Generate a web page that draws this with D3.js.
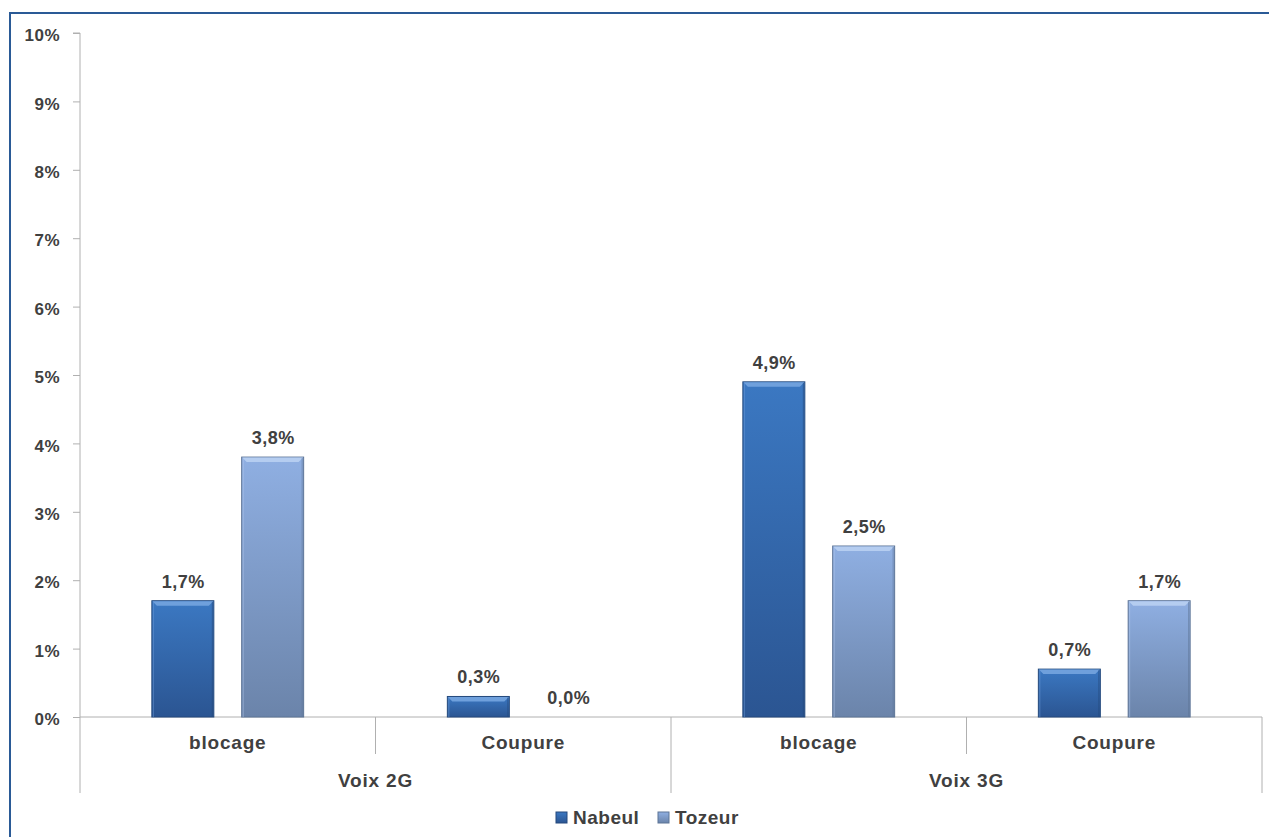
<!DOCTYPE html>
<html><head><meta charset="utf-8">
<script src="https://cdn.jsdelivr.net/npm/d3@7"></script>
<style>body{margin:0;background:#fff;}svg{display:block;font-family:"Liberation Sans",Arial,sans-serif;}</style>
</head><body>
<svg id="c" width="1269" height="837"></svg>
<script>
const groups = ["Voix 2G", "Voix 3G"];
const subCategories = ["blocage", "Coupure"];
const categories = ["Voix 2G|blocage", "Voix 2G|Coupure", "Voix 3G|blocage", "Voix 3G|Coupure"];
const seriesNames = ["Nabeul", "Tozeur"];
const nabeul = [1.7, 0.3, 4.9, 0.7];
const tozeur = [3.8, 0.0, 2.5, 1.7];
const yTicks = [0,1,2,3,4,5,6,7,8,9,10];

(function(){
const svg = d3.select("#c");
const defs = svg.append("defs");
function grad(id, c1, c2){
  const g = defs.append("linearGradient").attr("id", id).attr("x1",0).attr("y1",0).attr("x2",0).attr("y2",1);
  g.append("stop").attr("offset","0%").attr("stop-color",c1);
  g.append("stop").attr("offset","100%").attr("stop-color",c2);
}
grad("gN", "#3b78c2", "#2b5592");
grad("gT", "#8fafe2", "#6b84aa");
const fills = {Nabeul: "url(#gN)", Tozeur: "url(#gT)"};
const strokes = {Nabeul: "#24497c", Tozeur: "#5d7496"};
const tops = {Nabeul: "#6fa0dc", Tozeur: "#b5cdf0"};

svg.append("rect").attr("x",10).attr("y",13).attr("width",1280).attr("height",900)
  .attr("fill","none").attr("stroke","#2a5a96").attr("stroke-width",2);

const pL = 80, pR = 1262, pT = 33, pB = 717;
const y = d3.scaleLinear().domain([0,10]).range([pB, pT]);
const x0 = d3.scaleBand().domain(categories).range([pL, pR]).paddingInner(0).paddingOuter(0);
const x1 = d3.scaleBand().domain(seriesNames).range([0, x0.bandwidth()]).paddingInner(0.31).paddingOuter(0.8);

const textCol = "#404040";
const yAxis = d3.axisLeft(y).tickValues(yTicks).tickFormat(d => d + "%").tickSize(7).tickPadding(13);
const ya = svg.append("g").attr("transform", `translate(${pL},0)`).call(yAxis);
ya.select(".domain").attr("stroke","#b0b0b0").attr("d", `M-7,${pT}H0V${pB}`);
ya.selectAll(".tick line").attr("stroke","#b0b0b0");
ya.selectAll(".tick text").attr("fill",textCol).attr("font-size",17).attr("font-weight","bold")
  .attr("letter-spacing","0.5px").attr("dy","0.45em")
  .attr("font-family","'Liberation Sans',Arial,sans-serif");

svg.append("line").attr("x1",pL).attr("x2",pR).attr("y1",pB).attr("y2",pB).attr("stroke","#b0b0b0");
categories.forEach((c,i) => {
  const xs = x0(c);
  const isGroupStart = i % 2 === 0;
  svg.append("line").attr("x1",xs).attr("x2",xs).attr("y1",pB).attr("y2", isGroupStart ? 793 : 754)
    .attr("stroke","#b0b0b0");
});
svg.append("line").attr("x1",pR).attr("x2",pR).attr("y1",pB).attr("y2",793).attr("stroke","#b0b0b0");

categories.forEach(c => {
  svg.append("text").attr("x", x0(c) + x0.bandwidth()/2).attr("y", 749).attr("text-anchor","middle")
    .attr("fill",textCol).attr("font-size",19).attr("font-weight","bold").attr("letter-spacing","0.8px")
    .text(c.split("|")[1]);
});
groups.forEach(g => {
  const cs = categories.filter(c => c.startsWith(g + "|"));
  const xa = x0(cs[0]), xb = x0(cs[cs.length-1]) + x0.bandwidth();
  svg.append("text").attr("x",(xa+xb)/2).attr("y",787).attr("text-anchor","middle")
    .attr("fill",textCol).attr("font-size",19).attr("font-weight","bold").attr("letter-spacing","0.8px").text(g);
});

const data = categories.map((c,i) => ({cat:c, vals:[{s:"Nabeul", v:nabeul[i]},{s:"Tozeur", v:tozeur[i]}]}));
const gc = svg.selectAll("g.cat").data(data).join("g").attr("class","cat").attr("transform", d => `translate(${x0(d.cat)},0)`);
gc.each(function(d){
  const g = d3.select(this);
  d.vals.forEach(b => {
    const bx = x1(b.s), bw = x1.bandwidth(), by = y(b.v), bh = pB - y(b.v);
    if (bh > 0) {
      g.append("rect").attr("x",bx).attr("y",by).attr("width",bw).attr("height",bh)
        .attr("fill",fills[b.s]).attr("stroke",strokes[b.s]).attr("stroke-width",1);
      g.append("path").attr("d", `M${bx+0.5},${by+0.5}H${bx+bw-0.5}L${bx+bw-5},${by+5}H${bx+5}Z`).attr("fill",tops[b.s]);
      g.append("line").attr("x1",bx+1.5).attr("x2",bx+1.5).attr("y1",by+1).attr("y2",by+bh).attr("stroke",tops[b.s]).attr("stroke-opacity",0.5);
      g.append("line").attr("x1",bx+bw-1.5).attr("x2",bx+bw-1.5).attr("y1",by+1).attr("y2",by+bh).attr("stroke",strokes[b.s]).attr("stroke-opacity",0.6);
    }
    g.append("text").attr("x", bx + bw/2 + 0.5).attr("y", by - 13).attr("text-anchor","middle")
      .attr("fill",textCol).attr("font-size",18).attr("font-weight","bold").attr("letter-spacing","0.5px")
      .text(d3.format(".1f")(b.v).replace(".", ",") + "%");
  });
});

const leg = svg.append("g").attr("transform","translate(0,824)");
const legItems = [{s:"Nabeul", x:556}, {s:"Tozeur", x:658}];
legItems.forEach(it => {
  leg.append("rect").attr("x",it.x).attr("y",-12).attr("width",11).attr("height",11)
    .attr("fill",fills[it.s]).attr("stroke",strokes[it.s]);
  leg.append("text").attr("x",it.x+17).attr("y",0).attr("fill",textCol).attr("font-size",19)
    .attr("font-weight","bold").attr("letter-spacing","0.5px").text(it.s);
});
})();
</script>
</body></html>
